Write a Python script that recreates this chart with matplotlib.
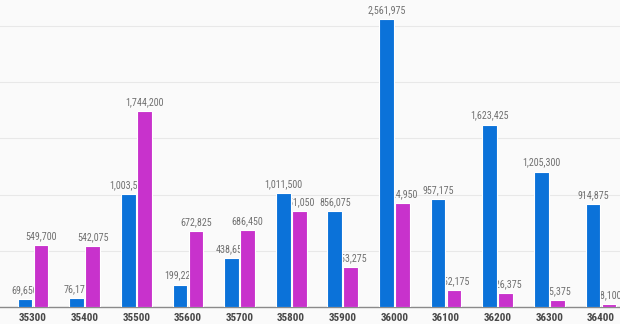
import numpy as np
import matplotlib.pyplot as plt
from matplotlib.ticker import MultipleLocator

strikes = ['35300', '35400', '35500', '35600', '35700', '35800',
           '35900', '36000', '36100', '36200', '36300', '36400']
call_oi = [69650, 76175, 1003500, 199225, 438650, 1011500,
           856075, 2561975, 957175, 1623425, 1205300, 914875]
put_oi = [549700, 542075, 1744200, 672825, 686450, 851050,
          353275, 924950, 152175, 126375, 65375, 28100]

blue = '#0b72d9'
magenta = '#c832cc'
bg = '#fafafa'

plt.rcParams['font.family'] = ['Roboto Condensed', 'Barlow Semi Condensed',
                               'Asap Condensed', 'DejaVu Sans']

fig = plt.figure(figsize=(6.2, 3.24), dpi=100, facecolor=bg)
ax = fig.add_axes([0, 17 / 324, 1, 1 - 17 / 324])
ax.set_facecolor(bg)

x = np.arange(len(strikes))
w = 0.285
off = 0.155
b1 = ax.bar(x - off, call_oi, w, color=blue, edgecolor='white', linewidth=0.8, zorder=3)
b2 = ax.bar(x + off, put_oi, w, color=magenta, edgecolor='white', linewidth=0.8, zorder=3)

# value labels sit under the bars, so a neighbouring bar can hide part of one
for bars, vals in ((b1, call_oi), (b2, put_oi)):
    for rect, v in zip(bars, vals):
        ax.text(rect.get_x() + rect.get_width() / 2, v + 35000, f'{v:,}',
                ha='center', va='bottom', fontsize=7.2, color='#707070', zorder=2)

ax.set_xlim(-0.64, 11.37)
ax.set_ylim(0, 2731000)
ax.yaxis.set_major_locator(MultipleLocator(500000))
ax.grid(axis='y', color='#e8e8e8', linewidth=0.8, zorder=0)
ax.tick_params(axis='y', left=False, labelleft=False)
ax.set_xticks(x)
ax.set_xticklabels(strikes, fontsize=8, fontweight='bold', color='#484848')
ax.tick_params(axis='x', length=0, pad=4)

for s in ('top', 'right', 'left'):
    ax.spines[s].set_visible(False)
ax.spines['bottom'].set_color('#8a8a8a')
ax.spines['bottom'].set_linewidth(1.0)

fig.savefig('out.png', dpi=100, facecolor=bg)
